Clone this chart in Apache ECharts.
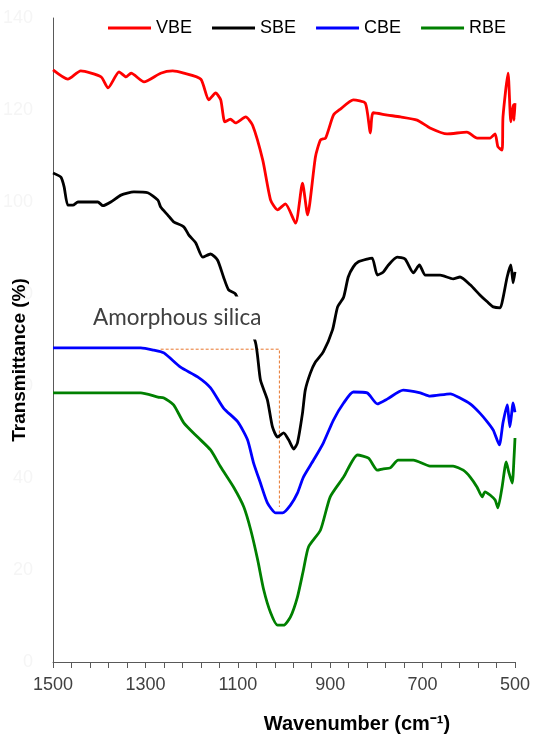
<!DOCTYPE html>
<html>
<head>
<meta charset="utf-8">
<script src="https://cdn.jsdelivr.net/npm/echarts@6/dist/echarts.min.js"></script>
<style>
  html, body { margin: 0; padding: 0; background: #fff; }
  #chart { width: 534px; height: 735px; }
</style>
</head>
<body>
<div id="chart"></div>
<script>
// FTIR spectra: wavenumber (cm-1) and transmittance (%) for each sample
const vbeWn = [1500,1468,1440,1396,1381,1357,1342,1331,1303,1267,1241,1217,1180,1163,1148,1137,1128,1116,1105,1083,1068,1046,1029,1014,997,975,960,949,932,921,910,893,878,850,824,813,807,776,748,712,684,647,604,582,554,543,537,528,526,515,509,504,502,500];
const vbeT  = [128.7,126.7,128.5,127.2,124.8,128.3,127.2,128.0,126.1,128.0,128.5,128.0,126.7,122.2,123.7,122.2,117.4,118.0,117.2,118.5,116.7,109.1,100.4,98.3,99.6,95.4,104.1,97.2,109.8,113.5,113.9,118.9,120.2,122.2,121.5,115.0,119.4,118.9,118.5,117.8,116.1,114.8,115.2,113.9,113.9,114.8,112.0,111.3,118.5,128.0,117.4,121.1,117.8,121.5];

const sbeWn = [1500,1483,1476,1468,1457,1446,1418,1403,1392,1375,1353,1325,1295,1273,1267,1252,1239,1217,1206,1191,1176,1159,1144,1131,1120,1105,1062,1051,1036,1025,1014,1001,990,979,971,960,954,943,932,915,895,884,871,861,850,839,820,809,798,785,774,755,738,720,707,694,662,634,619,597,576,560,547,532,526,517,509,504,500];
const sbeT  = [106.3,105.4,103.3,99.3,99.3,100.0,100.0,100.0,99.2,100.0,101.5,102.2,102.0,100.4,98.9,97.2,95.7,94.6,92.8,91.1,88.0,88.7,87.4,83.7,80.9,80.0,69.6,61.3,57.0,51.1,48.9,49.8,48.3,46.3,47.6,54.1,59.1,62.8,65.2,67.4,72.2,77.2,79.3,83.7,85.9,87.0,87.6,87.8,84.1,84.8,86.3,88.0,87.6,84.6,86.3,84.1,84.1,83.3,83.7,82.0,79.8,78.3,77.2,77.0,79.1,83.7,86.3,82.4,84.8];

const cbeWn = [1500,1396,1310,1282,1260,1224,1187,1159,1131,1100,1079,1066,1051,1036,1018,1003,986,971,958,936,915,893,871,850,820,798,776,742,705,684,640,619,597,576,560,547,534,526,517,511,504,500];
const cbeT  = [68.3,68.3,68.3,67.8,67.2,64.1,62.0,59.6,55.2,52.2,48.3,43.3,38.9,34.6,32.4,32.4,34.1,36.7,40.2,43.9,47.6,52.6,56.3,58.7,58.5,56.1,57.2,59.1,58.5,57.8,58.3,57.4,56.1,54.1,52.2,50.4,47.2,52.0,55.9,51.1,56.3,54.3];

const rbeWn = [1500,1396,1310,1273,1260,1239,1217,1187,1159,1137,1109,1087,1072,1057,1044,1029,1014,1001,986,971,958,947,921,900,871,841,817,798,785,770,753,720,684,634,612,597,582,571,565,554,543,537,528,519,513,506,502,500];
const rbeT  = [58.5,58.5,58.5,57.6,57.4,55.9,52.0,48.9,46.1,42.4,38.0,33.7,28.7,22.2,15.7,10.7,8.0,8.0,9.8,14.1,20.0,25.0,28.7,35.9,40.2,45.0,44.3,41.7,42.0,42.2,43.9,43.9,42.6,42.6,41.7,40.2,38.0,35.9,37.0,36.3,35.2,33.5,38.0,43.5,41.1,38.9,44.6,48.7];

// Guide marking the amorphous silica band
const silicaWn = [1267, 1010, 1010];
const silicaT  = [68.0, 68.0, 33.7];

const seriesNames = ['VBE', 'SBE', 'CBE', 'RBE'];
const seriesColors = ['#ff0000', '#000000', '#0000ff', '#008000'];
const xTickLabels = ['1500', '1300', '1100', '900', '700', '500'];

const pairs = (xs, ys) => xs.map((x, i) => [x, ys[i]]);
const spectra = [[vbeWn, vbeT], [sbeWn, sbeT], [cbeWn, cbeT], [rbeWn, rbeT]];

const chart = echarts.init(document.getElementById('chart'), null, { renderer: 'canvas' });

const lineSeries = spectra.map(([xs, ys], i) => ({
  name: seriesNames[i],
  type: 'line',
  xAxisIndex: 0,
  data: pairs(xs, ys),
  showSymbol: false,
  smooth: 0.2,
  lineStyle: { color: seriesColors[i], width: 2.8 },
  itemStyle: { color: seriesColors[i] },
  z: 2
}));

lineSeries.push({
  name: 'silica',
  type: 'line',
  xAxisIndex: 0,
  data: pairs(silicaWn, silicaT),
  showSymbol: false,
  lineStyle: { color: '#e8762c', width: 1, type: [3, 2] },
  z: 1
});

chart.setOption({
  animation: false,
  backgroundColor: '#ffffff',
  grid: { left: 52, right: 19, top: 18, bottom: 73 },
  legend: {
    data: seriesNames,
    top: 14,
    left: 103,
    icon: 'rect',
    itemWidth: 43,
    itemHeight: 3,
    itemGap: 20,
    textStyle: { fontSize: 18, color: '#000', fontFamily: 'Liberation Sans, Arial, sans-serif' }
  },
  xAxis: [
    {
      // data axis: wavenumber, high to low
      type: 'value', min: 500, max: 1500, inverse: true, show: false
    },
    {
      // tick axis: offset from 1500 cm-1, ticks every 40
      type: 'value', min: 0, max: 1000, interval: 40, position: 'bottom',
      axisLine: { show: true, lineStyle: { color: '#595959', width: 1 } },
      axisTick: { show: true, length: 6, lineStyle: { color: '#595959' } },
      splitLine: { show: false },
      axisLabel: {
        margin: 14,
        fontSize: 18,
        color: '#404040',
        fontFamily: 'Liberation Sans, Arial, sans-serif',
        formatter: v => (v % 200 === 0 ? xTickLabels[v / 200] : '')
      }
    }
  ],
  yAxis: {
    type: 'value', min: 0, max: 140, interval: 20,
    axisLine: { show: true, lineStyle: { color: '#595959', width: 1 } },
    axisTick: { show: false },
    splitLine: { show: false },
    axisLabel: { margin: 20, fontSize: 18, color: '#f5f5f5', fontFamily: 'Liberation Sans, Arial, sans-serif' }
  },
  graphic: [
    {
      type: 'text', z: 100, x: 88, y: 318,
      style: {
        text: 'Amorphous silica',
        font: '22.5px Lato, sans-serif',
        fill: '#404040',
        backgroundColor: '#ffffff',
        padding: [10, 6, 10, 5],
        verticalAlign: 'middle'
      }
    },
    {
      type: 'text', z: 100, x: 20, y: 360, rotation: Math.PI / 2,
      style: {
        text: 'Transmittance (%)',
        font: 'bold 19px Liberation Sans, Arial, sans-serif',
        fill: '#000',
        align: 'center',
        verticalAlign: 'middle'
      }
    },
    {
      type: 'text', z: 100, x: 357, y: 724,
      style: {
        text: 'Wavenumber (cm⁻¹)',
        font: 'bold 20px Liberation Sans, Arial, sans-serif',
        fill: '#000',
        align: 'center',
        verticalAlign: 'middle'
      }
    }
  ],
  series: lineSeries
});
</script>
</body>
</html>
